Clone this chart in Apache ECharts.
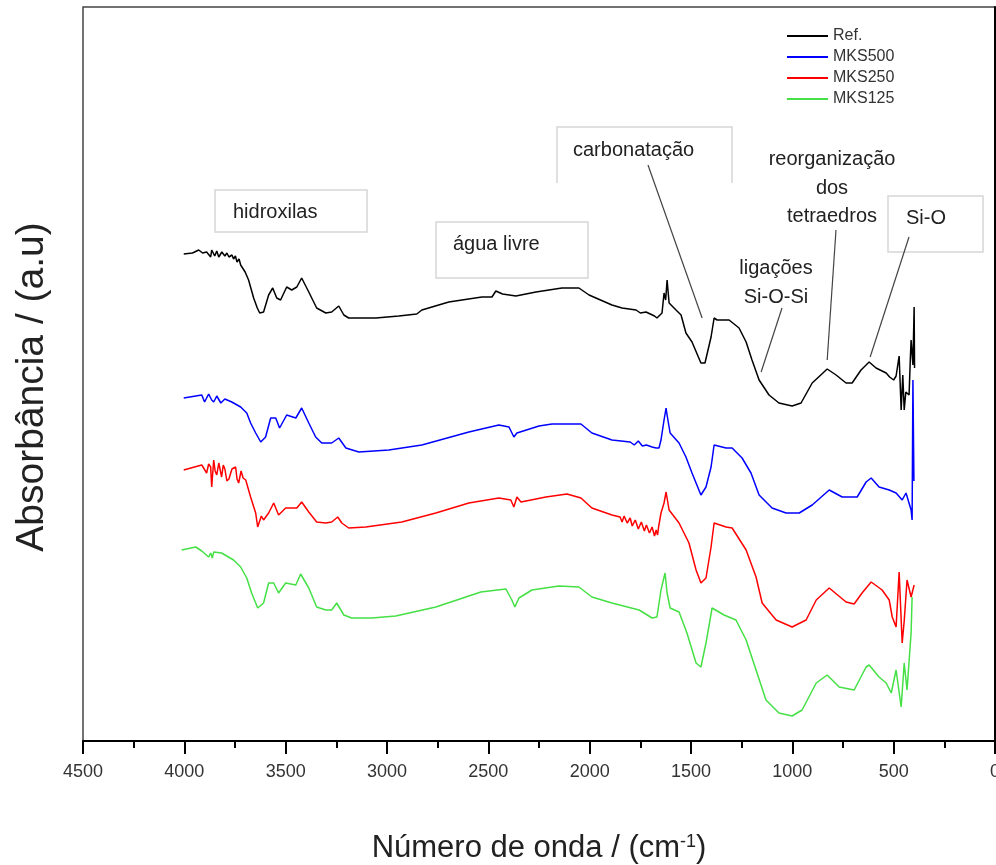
<!DOCTYPE html>
<html>
<head>
<meta charset="utf-8">
<script src="https://cdn.jsdelivr.net/npm/echarts@6/dist/echarts.min.js"></script>
<style>
  html, body { margin: 0; padding: 0; background: #fff; }
  #chart { width: 996px; height: 865px; }
</style>
</head>
<body>
<div id="chart"></div>
<script>
// spectra: [wavenumber cm-1, absorbance a.u. (with offsets)]
var seriesNames = ['Ref.', 'MKS500', 'MKS250', 'MKS125']
var seriesColors = ['#000000', '#0000ff', '#ff0000', '#45e045']
var xTicks = [4500, 4000, 3500, 3000, 2500, 2000, 1500, 1000, 500, 0]

var refData = [[4003,4.87],[3960,4.88],[3929,4.91],[3910,4.88],[3890,4.89],[3870,4.84],[3865,4.91],[3850,4.85],[3840,4.90],[3830,4.84],[3815,4.89],[3800,4.85],[3790,4.88],[3780,4.84],[3765,4.86],[3757,4.82],[3748,4.85],[3740,4.79],[3730,4.82],[3722,4.76],[3700,4.69],[3683,4.61],[3658,4.43],[3640,4.33],[3628,4.28],[3609,4.29],[3584,4.46],[3564,4.53],[3544,4.43],[3525,4.41],[3495,4.54],[3470,4.51],[3445,4.54],[3421,4.63],[3386,4.49],[3347,4.33],[3302,4.28],[3273,4.29],[3238,4.35],[3213,4.26],[3189,4.23],[3055,4.23],[2942,4.25],[2853,4.27],[2828,4.31],[2695,4.39],[2532,4.44],[2482,4.44],[2463,4.50],[2430,4.47],[2364,4.45],[2265,4.49],[2137,4.53],[2053,4.53],[2003,4.46],[1890,4.36],[1840,4.33],[1771,4.31],[1750,4.28],[1722,4.29],[1680,4.25],[1668,4.23],[1643,4.28],[1633,4.48],[1625,4.41],[1618,4.61],[1608,4.38],[1574,4.31],[1549,4.26],[1525,4.08],[1495,3.99],[1451,3.78],[1431,3.78],[1401,4.04],[1386,4.23],[1371,4.21],[1312,4.21],[1263,4.13],[1228,3.99],[1199,3.81],[1164,3.61],[1115,3.46],[1066,3.38],[1001,3.35],[957,3.38],[902,3.58],[828,3.72],[784,3.66],[735,3.58],[705,3.58],[661,3.71],[621,3.79],[587,3.73],[537,3.68],[520,3.64],[500,3.61],[488,3.65],[473,3.85],[463,3.31],[455,3.66],[448,3.31],[440,3.49],[424,3.46],[418,3.81],[414,4.01],[405,3.76],[399,4.34],[397,3.73]]

var mks500Data = [[4003,3.43],[3914,3.46],[3900,3.39],[3880,3.47],[3865,3.41],[3855,3.39],[3840,3.45],[3820,3.38],[3800,3.42],[3766,3.39],[3722,3.34],[3692,3.28],[3673,3.18],[3648,3.08],[3623,2.99],[3599,3.04],[3574,3.23],[3549,3.23],[3530,3.13],[3495,3.26],[3450,3.23],[3421,3.33],[3386,3.18],[3352,3.04],[3322,2.98],[3273,2.98],[3238,3.03],[3203,2.93],[3139,2.89],[2991,2.91],[2828,2.96],[2596,3.09],[2448,3.16],[2398,3.14],[2374,3.04],[2359,3.08],[2250,3.15],[2186,3.17],[2043,3.17],[1989,3.08],[1890,3.01],[1800,2.99],[1780,2.96],[1760,3.00],[1740,2.95],[1720,2.96],[1692,2.94],[1672,2.93],[1658,2.93],[1648,3.01],[1633,3.21],[1623,3.33],[1618,3.26],[1603,3.08],[1559,2.98],[1525,2.84],[1495,2.68],[1451,2.46],[1426,2.54],[1401,2.74],[1386,2.96],[1327,2.93],[1297,2.93],[1248,2.83],[1204,2.68],[1164,2.46],[1100,2.33],[1031,2.28],[966,2.28],[902,2.36],[818,2.51],[754,2.44],[680,2.44],[636,2.59],[611,2.63],[572,2.54],[522,2.51],[488,2.48],[458,2.41],[439,2.48],[414,2.31],[409,2.21],[405,3.61],[400,2.60]]

var mks250Data = [[4003,2.71],[3914,2.76],[3890,2.68],[3880,2.77],[3870,2.74],[3865,2.54],[3855,2.81],[3848,2.70],[3840,2.66],[3830,2.78],[3816,2.64],[3808,2.76],[3800,2.72],[3790,2.60],[3780,2.62],[3765,2.72],[3747,2.74],[3740,2.62],[3732,2.58],[3720,2.70],[3710,2.63],[3697,2.61],[3673,2.44],[3648,2.28],[3638,2.14],[3620,2.25],[3609,2.21],[3584,2.28],[3559,2.38],[3535,2.26],[3500,2.33],[3445,2.33],[3421,2.39],[3386,2.29],[3347,2.19],[3302,2.18],[3273,2.19],[3243,2.24],[3223,2.18],[3189,2.13],[3105,2.14],[2927,2.19],[2759,2.28],[2596,2.38],[2448,2.43],[2389,2.41],[2374,2.34],[2359,2.44],[2339,2.39],[2216,2.44],[2112,2.47],[2043,2.43],[1989,2.33],[1890,2.26],[1850,2.24],[1840,2.19],[1830,2.25],[1815,2.18],[1800,2.23],[1790,2.15],[1775,2.21],[1760,2.12],[1745,2.19],[1730,2.10],[1720,2.16],[1705,2.08],[1692,2.14],[1680,2.05],[1672,2.11],[1665,2.06],[1660,2.14],[1648,2.28],[1633,2.38],[1623,2.49],[1608,2.31],[1559,2.18],[1510,1.98],[1475,1.71],[1451,1.58],[1426,1.63],[1401,1.94],[1386,2.18],[1327,2.14],[1297,2.13],[1228,1.91],[1179,1.64],[1149,1.38],[1080,1.21],[1001,1.14],[932,1.21],[882,1.41],[818,1.53],[735,1.39],[695,1.37],[656,1.48],[611,1.59],[557,1.51],[522,1.41],[507,1.24],[488,1.14],[473,1.69],[458,0.98],[448,1.20],[434,1.61],[414,1.44],[399,1.56]]

var mks125Data = [[4013,1.91],[3944,1.94],[3914,1.90],[3880,1.84],[3870,1.88],[3862,1.83],[3855,1.89],[3816,1.88],[3757,1.81],[3722,1.74],[3692,1.63],[3668,1.48],[3638,1.33],[3609,1.38],[3584,1.58],[3559,1.58],[3535,1.48],[3500,1.58],[3450,1.56],[3426,1.67],[3386,1.53],[3347,1.34],[3302,1.31],[3273,1.31],[3248,1.38],[3213,1.26],[3174,1.23],[3075,1.23],[2957,1.25],[2759,1.34],[2537,1.49],[2413,1.52],[2384,1.41],[2369,1.34],[2349,1.43],[2285,1.51],[2152,1.55],[2053,1.54],[1989,1.44],[1890,1.38],[1756,1.31],[1692,1.23],[1668,1.24],[1648,1.51],[1628,1.68],[1618,1.48],[1603,1.33],[1559,1.29],[1520,1.08],[1475,0.78],[1451,0.74],[1426,0.98],[1396,1.33],[1337,1.26],[1278,1.21],[1228,1.01],[1179,0.71],[1130,0.41],[1066,0.28],[1001,0.25],[952,0.31],[882,0.58],[828,0.66],[769,0.54],[695,0.51],[636,0.74],[621,0.76],[572,0.64],[537,0.58],[512,0.48],[488,0.71],[463,0.34],[448,0.78],[434,0.51],[414,1.08],[409,1.44]]

// the point of the Ref. curve each leader line points at
var leaderTargets = [[1445, 4.23], [1154, 3.69], [828, 3.81], [616, 3.84]]

var FONT = 'Liberation Sans, Arial, sans-serif'
var allData = [refData, mks500Data, mks250Data, mks125Data]

var myChart = echarts.init(document.getElementById('chart'))

var option = {
  animation: false,
  backgroundColor: '#fff',
  grid: {
    left: 83, right: 1, top: 7, bottom: 124,
    outerBoundsMode: 'none',
    containLabel: false,
    show: true, borderColor: '#444', borderWidth: 1.5
  },
  legend: {
    data: seriesNames,
    orient: 'vertical',
    left: 782, top: 23,
    icon: 'rect',
    itemWidth: 41, itemHeight: 2, itemGap: 5,
    textStyle: { fontFamily: FONT, fontSize: 16, color: '#333' }
  },
  xAxis: {
    type: 'value',
    inverse: true,
    min: 0, max: 4500, interval: 500,
    name: 'Número de onda / (cm{sup|-1})',
    nameLocation: 'middle',
    nameGap: 92,
    nameTextStyle: {
      fontFamily: FONT, fontSize: 31, color: '#222',
      rich: { sup: { fontFamily: FONT, fontSize: 18, color: '#222', verticalAlign: 'top' } }
    },
    axisLine: { lineStyle: { color: '#000', width: 2 } },
    axisTick: { show: true, inside: false, length: 13, lineStyle: { color: '#000', width: 2 } },
    minorTick: { show: true, splitNumber: 2, length: 7, lineStyle: { color: '#000', width: 2 } },
    axisLabel: { fontFamily: FONT, fontSize: 18, color: '#333', margin: 22,
      formatter: function (v) { return xTicks.indexOf(v) >= 0 ? String(v) : '' } },
    splitLine: { show: false }
  },
  yAxis: {
    type: 'value',
    min: 0, max: 7.34,
    axisLine: { show: true, lineStyle: { color: '#000', width: 2 } },
    axisTick: { show: false },
    axisLabel: { show: false },
    splitLine: { show: false }
  },
  series: seriesNames.map(function (n, i) {
    return {
      name: n,
      type: 'line',
      data: allData[i],
      symbol: 'none',
      color: seriesColors[i],
      lineStyle: { color: seriesColors[i], width: 1.5 },
      z: 2 + i
    }
  })
}

myChart.setOption(option)

var txt = { fontFamily: FONT, fontSize: 20, fill: '#222' }
function label(text, x, y, align) {
  return { type: 'text', x: x, y: y, z: 20,
    style: Object.assign({}, txt, { text: text, align: align || 'left', verticalAlign: 'middle' }) }
}
function box(x, y, w, h) {
  return { type: 'rect', shape: { x: x, y: y, width: w, height: h }, z: 10,
    style: { fill: 'none', stroke: '#d6d6d6', lineWidth: 1.5 } }
}
function leader(x, y, target) {
  var p = myChart.convertToPixel({ gridIndex: 0 }, target)
  return { type: 'line', shape: { x1: x, y1: y, x2: p[0], y2: p[1] }, z: 15,
    style: { stroke: '#444', lineWidth: 1.2 } }
}

myChart.setOption({
  graphic: [
    { type: 'text', x: 32, y: 387, rotation: Math.PI / 2, z: 20,
      style: { text: 'Absorbância / (a.u)', fontFamily: FONT, fontSize: 39, fill: '#222',
        align: 'center', verticalAlign: 'middle' } },
    box(215, 190, 152, 42), label('hidroxilas', 233, 212),
    box(436, 222, 152, 56), label('água livre', 453, 244),
    { type: 'polyline', z: 10, shape: { points: [[557, 183], [557, 127], [732, 127], [732, 183]] },
      style: { fill: 'none', stroke: '#d6d6d6', lineWidth: 1.5 } },
    label('carbonatação', 573, 150),
    label('reorganização', 832, 159, 'center'),
    label('dos', 832, 188, 'center'),
    label('tetraedros', 832, 216, 'center'),
    box(888, 196, 95, 56), label('Si-O', 906, 218),
    label('ligações', 776, 268, 'center'),
    label('Si-O-Si', 776, 297, 'center'),
    leader(648, 165, leaderTargets[0]),
    leader(782, 308, leaderTargets[1]),
    leader(836, 230, leaderTargets[2]),
    leader(909, 237, leaderTargets[3])
  ]
})
</script>
</body>
</html>
